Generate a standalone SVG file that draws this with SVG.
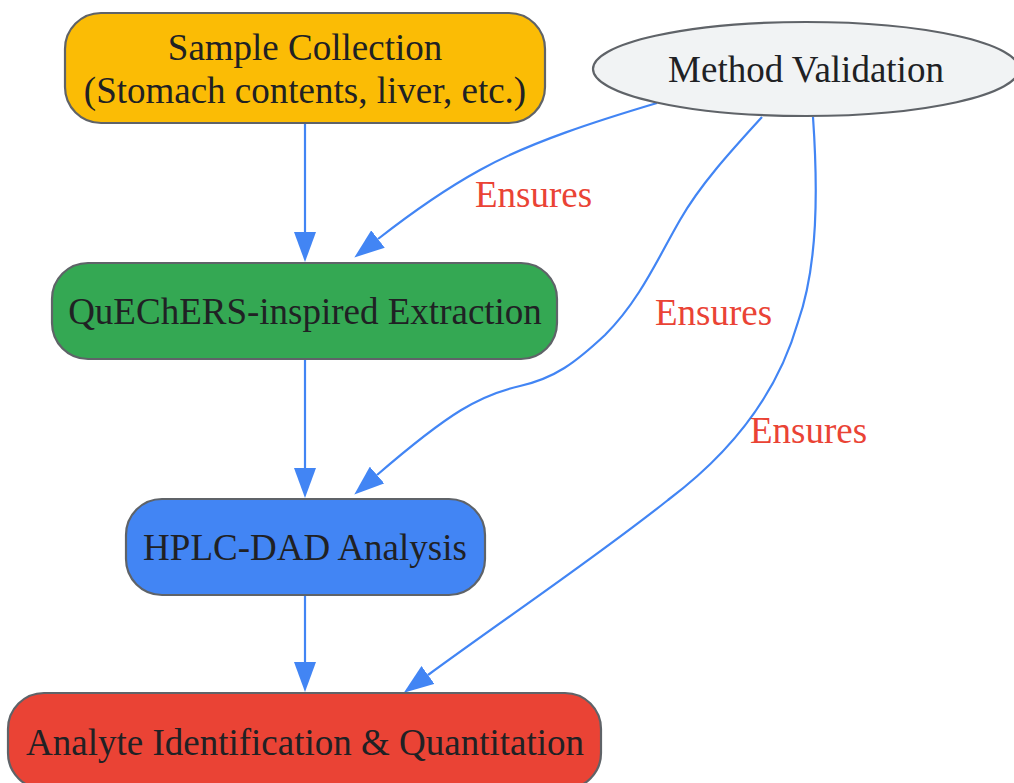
<svg xmlns="http://www.w3.org/2000/svg" width="1014" height="783" viewBox="0 0 1014 783">
<defs>
<marker id="arr" viewBox="0 0 30 22" refX="0" refY="11" markerWidth="30" markerHeight="22" markerUnits="userSpaceOnUse" orient="auto">
<path d="M0,0 L30,11 L0,22 z" fill="#4285F4"/>
</marker>
<style>
.node{stroke:#5f6368;stroke-width:2.2}
.lbl{font-family:"Liberation Serif","Times New Roman",serif;font-size:37px;fill:#202124;text-anchor:middle}
.edge{fill:none;stroke:#4285F4;stroke-width:2.2;marker-end:url(#arr)}
.elbl{font-family:"Liberation Serif","Times New Roman",serif;font-size:37px;fill:#EA4335}
</style>
</defs>
<rect width="1014" height="783" fill="#ffffff"/>
<g id="connectors">
<path class="edge" d="M305,123 L305,232"/>
<path class="edge" d="M305,359 L305,468"/>
<path class="edge" d="M305,595 L305,662"/>
<path class="edge" d="M657,103 C600,120 530,142 480,170 C440,192 410,214 378,239"/>
<path class="edge" d="M762,117 C730,152 700,185 680,220 C658,258 640,300 605,335 C575,363 555,378 520,386 C480,395 450,412 377,475"/>
<path class="edge" d="M813,117 C818,190 818,265 798,322 C778,392 732,452 668,500 C595,558 510,615 428,675"/>
<text class="elbl" x="475" y="207">Ensures</text>
<text class="elbl" x="655" y="325">Ensures</text>
<text class="elbl" x="750" y="443">Ensures</text>
</g>
<g id="sample">
<rect class="node" x="65" y="13" width="480" height="110" rx="36" fill="#FBBC05"/>
<text class="lbl" x="305" y="60">Sample Collection</text>
<text class="lbl" x="305" y="103">(Stomach contents, liver, etc.)</text>
</g>
<g id="quechers">
<rect class="node" x="52" y="263" width="505" height="96" rx="36" fill="#34A853"/>
<text class="lbl" x="305" y="324">QuEChERS-inspired Extraction</text>
</g>
<g id="hplc">
<rect class="node" x="126" y="499" width="359" height="96" rx="36" fill="#4285F4"/>
<text class="lbl" x="305" y="560">HPLC-DAD Analysis</text>
</g>
<g id="analyte">
<rect class="node" x="8" y="693" width="593" height="96" rx="36" fill="#EA4335"/>
<text class="lbl" x="305" y="755">Analyte Identification &amp; Quantitation</text>
</g>
<g id="validation">
<ellipse class="node" cx="806" cy="69" rx="213" ry="47" fill="#F1F3F4"/>
<text class="lbl" x="806" y="82">Method Validation</text>
</g>
</svg>
